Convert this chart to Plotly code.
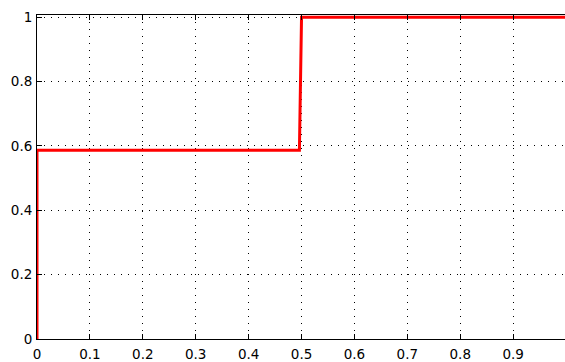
import plotly.graph_objects as go

# Step curve data
x_vals = [0.0, 0.0, 0.496, 0.5, 1.0]
y_vals = [0.0, 0.587, 0.587, 1.0, 1.0]

x_ticks = [0, 0.1, 0.2, 0.3, 0.4, 0.5, 0.6, 0.7, 0.8, 0.9]
x_tick_text = ["0", "0.1", "0.2", "0.3", "0.4", "0.5", "0.6", "0.7", "0.8", "0.9"]
y_ticks = [0, 0.2, 0.4, 0.6, 0.8, 1.0]
y_tick_text = ["0", "0.2", "0.4", "0.6", "0.8", "1"]

fig = go.Figure()
fig.add_trace(go.Scatter(
    x=x_vals, y=y_vals, mode="lines",
    line=dict(color="#ff0000", width=3),
    showlegend=False, hoverinfo="skip", cliponaxis=False,
))

font = dict(family="DejaVu Sans, sans-serif", size=13.5, color="#000000")

fig.update_layout(
    width=565, height=362,
    margin=dict(l=37, r=0, t=15, b=20),
    paper_bgcolor="white", plot_bgcolor="white",
    font=font,
    xaxis=dict(
        range=[0, 0.998], tickvals=x_ticks, ticktext=x_tick_text,
        showgrid=True, gridcolor="#000000", gridwidth=1, griddash="1px,6px",
        zeroline=False, showline=True, linecolor="#000000", linewidth=1,
        mirror="ticks", ticks="inside", ticklen=5, tickcolor="#000000",
        tickfont=font, fixedrange=True, ticklabelstandoff=3,
    ),
    yaxis=dict(
        range=[0, 1.007], tickvals=y_ticks, ticktext=y_tick_text,
        showgrid=True, gridcolor="#000000", gridwidth=1, griddash="1px,6px",
        zeroline=False, showline=True, linecolor="#000000", linewidth=1,
        ticks="inside", ticklen=5, tickcolor="#000000",
        tickfont=font, fixedrange=True, ticklabelstandoff=1,
    ),
)

fig.write_html(
    "out.html",
    config={"displayModeBar": False},
    post_script="document.body.style.margin='0';document.body.style.padding='0';",
)
